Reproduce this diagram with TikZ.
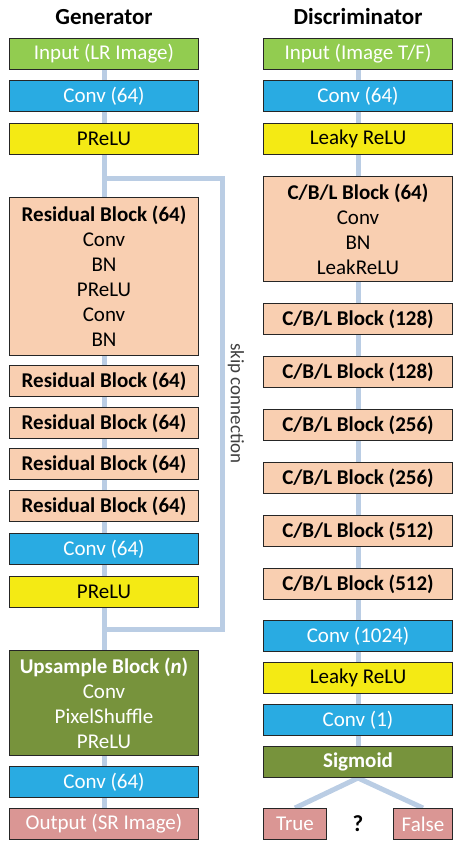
\documentclass[tikz,border=0pt]{standalone}
\usepackage{fontspec}
\setmainfont{Carlito}
\usetikzlibrary{positioning,calc,backgrounds}
\definecolor{inputgreen}{RGB}{146,204,80}
\definecolor{convblue}{RGB}{41,171,226}
\definecolor{actyellow}{RGB}{244,234,20}
\definecolor{blockpeach}{RGB}{249,207,177}
\definecolor{upolive}{RGB}{119,147,60}
\definecolor{outpink}{RGB}{218,150,148}
\definecolor{skipblue}{RGB}{186,205,228}
\definecolor{edge}{RGB}{38,38,38}
\tikzset{
  unit/.style={draw=edge,line width=1.3pt,minimum width=189pt,minimum height=30.7pt,align=center,inner sep=2pt,font=\fontsize{21}{25}\selectfont},
  inbox/.style={unit,fill=inputgreen,text=white},
  convbox/.style={unit,fill=convblue,text=white},
  actbox/.style={unit,fill=actyellow},
  resbox/.style={unit,fill=blockpeach},
  upbox/.style={unit,fill=upolive,text=white},
  outbox/.style={unit,fill=outpink,text=white},
  headline/.style={font=\fontsize{23}{27}\selectfont\bfseries},
  link/.style={draw=skipblue,line width=5pt}
}

\begin{document}
\begin{tikzpicture}[x=1pt,y=1pt,node distance=10pt]
  \useasboundingbox (0,0) rectangle (454,-842);
  % generator
  \node[headline] (gtitle) at (104,-17) {Generator};
  \node[inbox] (ginput) at (104,-54) {Input (LR Image)};
  \node[convbox,below=of ginput] (gconv) {Conv (64)};
  \node[actbox,below=11pt of gconv] (gprelu) {PReLU};
  \node[resbox,below=42pt of gprelu,minimum height=157.7pt] (gres1) {\textbf{Residual Block (64)}\\Conv\\BN\\PReLU\\Conv\\BN};
  \node[resbox,below=9pt of gres1] (gres2) {\textbf{Residual Block (64)}};
  \node[resbox,below=of gres2] (gres3) {\textbf{Residual Block (64)}};
  \node[resbox,below=9pt of gres3] (gres4) {\textbf{Residual Block (64)}};
  \node[resbox,below=of gres4] (gres5) {\textbf{Residual Block (64)}};
  \node[convbox,below=11pt of gres5] (gconv2) {Conv (64)};
  \node[actbox,below=11pt of gconv2] (gprelu2) {PReLU};
  \node[upbox,below=42pt of gprelu2,minimum height=104.7pt] (gup) {\textbf{Upsample Block (\textit{n})}\\Conv\\PixelShuffle\\PReLU};
  \node[convbox,below=of gup] (gconv3) {Conv (64)};
  \node[outbox,below=of gconv3] (goutput) {Output (SR Image)};
  \coordinate (skipin) at ($(gprelu.south)!0.55!(gres1.north)$);
  \coordinate (skipout) at ($(gprelu2.south)!0.5!(gup.north)$);

  % discriminator
  \node[headline] (dtitle) at (358,-17) {Discriminator};
  \node[inbox] (dinput) at (358,-54) {Input (Image T/F)};
  \node[convbox,below=of dinput] (dconv) {Conv (64)};
  \node[actbox,below=11pt of dconv] (dlrelu) {Leaky ReLU};
  \node[resbox,below=21pt of dlrelu,minimum height=104.7pt] (dcbl1) {\textbf{C/B/L Block (64)}\\Conv\\BN\\LeakReLU};
  \node[resbox,below=21pt of dcbl1] (dcbl2) {\textbf{C/B/L Block (128)}};
  \node[resbox,below=21pt of dcbl2] (dcbl3) {\textbf{C/B/L Block (128)}};
  \node[resbox,below=21pt of dcbl3] (dcbl4) {\textbf{C/B/L Block (256)}};
  \node[resbox,below=21pt of dcbl4] (dcbl5) {\textbf{C/B/L Block (256)}};
  \node[resbox,below=21pt of dcbl5] (dcbl6) {\textbf{C/B/L Block (512)}};
  \node[resbox,below=21pt of dcbl6] (dcbl7) {\textbf{C/B/L Block (512)}};
  \node[convbox,below=20pt of dcbl7] (dconv2) {Conv (1024)};
  \node[actbox,below=of dconv2] (dlrelu2) {Leaky ReLU};
  \node[convbox,below=of dlrelu2] (dconv3) {Conv (1)};
  \node[upbox,below=of dconv3] (dsig) {\textbf{Sigmoid}};
  \node[outbox,minimum width=63pt,below right=30pt and 0pt of dsig.south west] (dtrue) {True};
  \node[outbox,minimum width=59pt,below left=30pt and 0pt of dsig.south east] (dfalse) {False};
  \node[headline] (dq) at (dsig.south |- dtrue) {?};

  \begin{scope}[on background layer]
    \draw[link] (ginput) -- (goutput);
    \draw[link] (skipin) -- ++(118,0) |- node[pos=0.25,rotate=-90,anchor=south,font=\fontsize{19}{23}\selectfont,text=black!75] {skip connection} (skipout);
    \draw[link] (dinput) -- (dsig);
    \draw[link] (dsig.south) -- (dtrue.north);
    \draw[link] (dsig.south) -- (dfalse.north);
  \end{scope}
\end{tikzpicture}
\end{document}
